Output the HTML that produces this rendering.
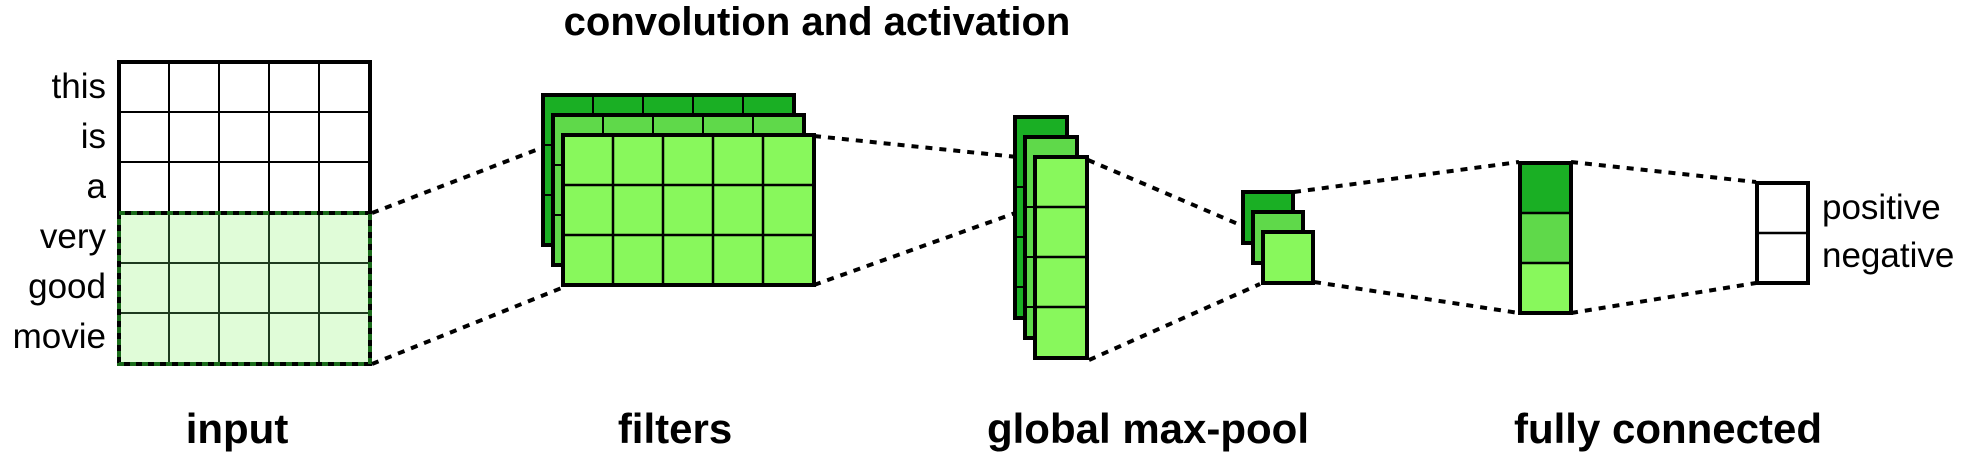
<!DOCTYPE html>
<html><head><meta charset="utf-8"><style>
html,body{margin:0;padding:0;background:#fff;}
svg{display:block;}
text{font-family:"Liberation Sans",Arial,sans-serif;}
</style></head><body>
<svg width="1966" height="462" viewBox="0 0 1966 462" xmlns="http://www.w3.org/2000/svg">
<rect width="1966" height="462" fill="#fff"/>
<text x="817" y="35" font-size="40" font-weight="bold" text-anchor="middle">convolution and activation</text>

<!-- input grid -->
<rect x="119" y="213" width="251" height="151" fill="#e0fcd8"/>
<g stroke="#000" stroke-width="2">
<line x1="169" y1="62" x2="169" y2="213"/><line x1="219" y1="62" x2="219" y2="213"/><line x1="269" y1="62" x2="269" y2="213"/><line x1="319" y1="62" x2="319" y2="213"/>
<line x1="119" y1="112" x2="370" y2="112"/><line x1="119" y1="162" x2="370" y2="162"/>
</g>
<g stroke="#1f3b1f" stroke-width="2">
<line x1="169" y1="213" x2="169" y2="364"/><line x1="219" y1="213" x2="219" y2="364"/><line x1="269" y1="213" x2="269" y2="364"/><line x1="319" y1="213" x2="319" y2="364"/>
<line x1="119" y1="263" x2="370" y2="263"/><line x1="119" y1="313" x2="370" y2="313"/>
</g>
<polyline points="119,213 119,62 370,62 370,213" fill="none" stroke="#000" stroke-width="4"/>
<rect x="119" y="213" width="251" height="151" fill="none" stroke="#000" stroke-width="4"/>
<rect x="119" y="213" width="251" height="151" fill="none" stroke="#1a6b1a" stroke-width="4" stroke-dasharray="6 6"/>
<g font-size="35" text-anchor="end">
<text x="106" y="98">this</text><text x="106" y="148">is</text><text x="106" y="198">a</text>
<text x="106" y="248">very</text><text x="106" y="298">good</text><text x="106" y="348">movie</text>
</g>

<!-- dashed connectors -->
<g stroke="#000" stroke-width="4" stroke-dasharray="7 7" fill="none">
<line x1="372" y1="213" x2="562" y2="140"/>
<line x1="372" y1="364" x2="564" y2="287"/>
<line x1="814" y1="136" x2="1017" y2="157"/>
<line x1="814" y1="285" x2="1032" y2="207"/>
<line x1="1088" y1="160" x2="1252" y2="230"/>
<line x1="1089" y1="360" x2="1260" y2="284"/>
<line x1="1294" y1="192" x2="1519" y2="162"/>
<line x1="1314" y1="282" x2="1519" y2="313"/>
<line x1="1571" y1="162" x2="1756" y2="182"/>
<line x1="1571" y1="313" x2="1756" y2="283"/>
</g>

<!-- filters -->
<g stroke="#000">
<rect x="543" y="95" width="251" height="150" fill="#1aaf24" stroke-width="4"/>
<line x1="593" y1="95" x2="593" y2="114" stroke-width="2"/><line x1="643" y1="95" x2="643" y2="114" stroke-width="2"/><line x1="693" y1="95" x2="693" y2="114" stroke-width="2"/><line x1="743" y1="95" x2="743" y2="114" stroke-width="2"/>
<line x1="543" y1="145" x2="553" y2="145" stroke-width="2"/><line x1="543" y1="195" x2="553" y2="195" stroke-width="2"/>
<rect x="553" y="115" width="251" height="150" fill="#5fd94a" stroke-width="4"/>
<line x1="603" y1="115" x2="603" y2="134" stroke-width="2"/><line x1="653" y1="115" x2="653" y2="134" stroke-width="2"/><line x1="703" y1="115" x2="703" y2="134" stroke-width="2"/><line x1="753" y1="115" x2="753" y2="134" stroke-width="2"/>
<line x1="553" y1="165" x2="563" y2="165" stroke-width="2"/><line x1="553" y1="215" x2="563" y2="215" stroke-width="2"/>
<rect x="563" y="135" width="251" height="150" fill="#88f85c" stroke-width="4"/>
<g stroke-width="2.5">
<line x1="613" y1="135" x2="613" y2="285"/><line x1="663" y1="135" x2="663" y2="285"/><line x1="713" y1="135" x2="713" y2="285"/><line x1="763" y1="135" x2="763" y2="285"/>
<line x1="563" y1="185" x2="814" y2="185"/><line x1="563" y1="235" x2="814" y2="235"/>
</g>
</g>

<!-- global max-pool -->
<g stroke="#000">
<rect x="1015" y="117" width="52" height="201" fill="#1aaf24" stroke-width="4"/>
<line x1="1015" y1="187" x2="1025" y2="187" stroke-width="2"/><line x1="1015" y1="237" x2="1025" y2="237" stroke-width="2"/><line x1="1015" y1="287" x2="1025" y2="287" stroke-width="2"/>
<rect x="1025" y="137" width="52" height="201" fill="#5fd94a" stroke-width="4"/>
<line x1="1025" y1="207" x2="1035" y2="207" stroke-width="2"/><line x1="1025" y1="257" x2="1035" y2="257" stroke-width="2"/><line x1="1025" y1="307" x2="1035" y2="307" stroke-width="2"/>
<rect x="1035" y="157" width="52" height="201" fill="#88f85c" stroke-width="4"/>
<g stroke-width="2.5">
<line x1="1035" y1="207" x2="1087" y2="207"/><line x1="1035" y1="257" x2="1087" y2="257"/><line x1="1035" y1="307" x2="1087" y2="307"/>
</g>
</g>

<!-- small squares -->
<g stroke="#000" stroke-width="4">
<rect x="1243" y="192" width="50" height="51" fill="#1aaf24"/>
<rect x="1253" y="212" width="50" height="51" fill="#5fd94a"/>
<rect x="1263" y="232" width="50" height="51" fill="#88f85c"/>
</g>

<!-- FC -->
<g stroke="#000">
<rect x="1520" y="163" width="51" height="50" fill="#1aaf24" stroke-width="0"/>
<rect x="1520" y="213" width="51" height="50" fill="#5fd94a" stroke-width="0"/>
<rect x="1520" y="263" width="51" height="50" fill="#88f85c" stroke-width="0"/>
<line x1="1520" y1="213" x2="1571" y2="213" stroke-width="2.5"/><line x1="1520" y1="263" x2="1571" y2="263" stroke-width="2.5"/>
<rect x="1520" y="163" width="51" height="150" fill="none" stroke-width="4"/>
<rect x="1757" y="183" width="51" height="100" fill="#fff" stroke-width="4"/>
<line x1="1757" y1="233" x2="1808" y2="233" stroke-width="2.5"/>
</g>
<text x="1822" y="219" font-size="35">positive</text>
<text x="1822" y="267" font-size="35">negative</text>

<g font-size="42" font-weight="bold" text-anchor="middle">
<text x="237" y="443">input</text>
<text x="675" y="443">filters</text>
<text x="1148" y="443">global max-pool</text>
<text x="1668" y="443">fully connected</text>
</g>
</svg>
</body></html>
